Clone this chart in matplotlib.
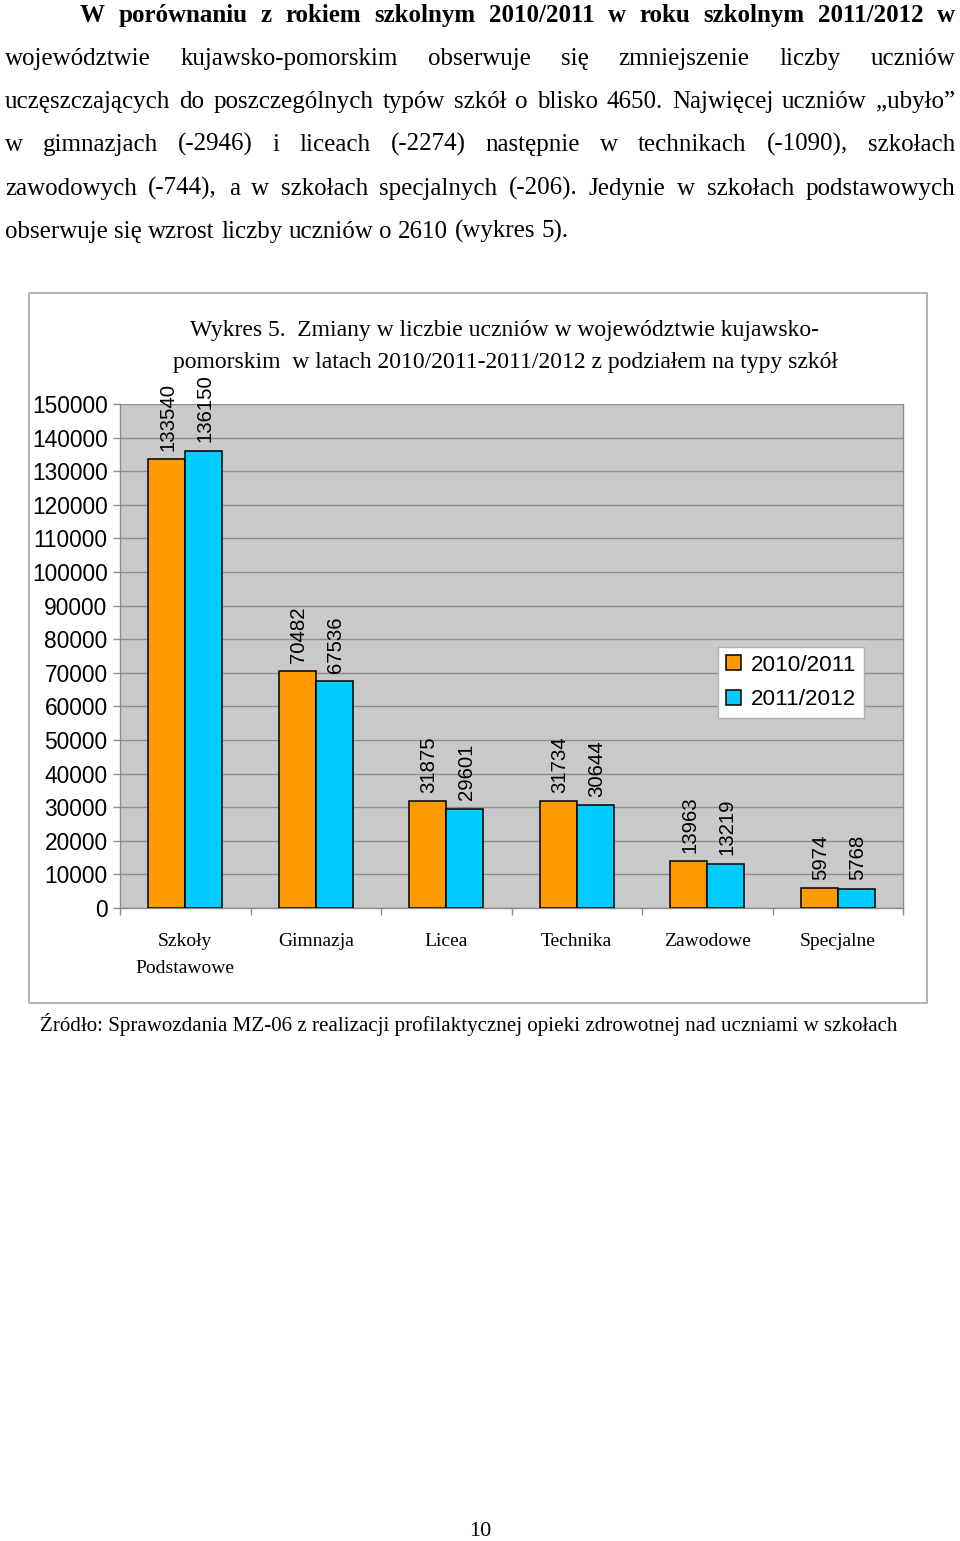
import matplotlib
matplotlib.use("Agg")
import matplotlib.pyplot as plt
import numpy as np
from matplotlib.patches import Rectangle

categories = ["Szkoły\nPodstawowe", "Gimnazja", "Licea", "Technika", "Zawodowe", "Specjalne"]
series_names = ["2010/2011", "2011/2012"]
values_2010 = [133540, 70482, 31875, 31734, 13963, 5974]
values_2011 = [136150, 67536, 29601, 30644, 13219, 5768]
yticks = list(range(0, 150001, 10000))

paragraph_lines = [
    "W porównaniu z rokiem szkolnym 2010/2011 w roku szkolnym 2011/2012 w",
    "województwie kujawsko-pomorskim obserwuje się zmniejszenie liczby uczniów",
    "uczęszczających do poszczególnych typów szkół o blisko 4650. Najwięcej uczniów „ubyło”",
    "w gimnazjach (-2946) i liceach (-2274) następnie w technikach (-1090), szkołach",
    "zawodowych (-744), a w szkołach specjalnych (-206). Jedynie w szkołach podstawowych",
    "obserwuje się wzrost liczby uczniów o 2610 (wykres 5).",
]
bold_words_line1 = 11
title_text = ("Wykres 5.  Zmiany w liczbie uczniów w województwie kujawsko-\n"
              "pomorskim  w latach 2010/2011-2011/2012 z podziałem na typy szkół")
source_text = "Źródło: Sprawozdania MZ-06 z realizacji profilaktycznej opieki zdrowotnej nad uczniami w szkołach"
page_number = "10"

W, H = 960, 1541
fig = plt.figure(figsize=(W / 100, H / 100), dpi=100)
fig.patch.set_facecolor("white")
renderer = fig.canvas.get_renderer()

SERIF = "Liberation Serif"
SANS = "Liberation Sans"

def fx(px):
    return px / W

def fy(py):
    return 1 - py / H

def text_width(s, size, weight="normal"):
    t = fig.text(0, 0, s, fontsize=size, family=SERIF, fontweight=weight)
    w = t.get_window_extent(renderer).width
    t.remove()
    return w

# ---- justified paragraph ----
para_size = 18.0
baselines = [22, 65, 108, 151, 195, 238]
left_margin, right_margin, indent = 5, 955, 80
space_w = text_width("a a", para_size) - 2 * text_width("a", para_size)
for li, line in enumerate(paragraph_lines):
    words = line.split(" ")
    weights = ["normal"] * len(words)
    if li == 0:
        weights = ["bold"] * bold_words_line1 + ["normal"] * (len(words) - bold_words_line1)
    texts, widths = [], []
    for w_, wt in zip(words, weights):
        t = fig.text(0, fy(baselines[li]), w_, fontsize=para_size, family=SERIF,
                     fontweight=wt, va="baseline", ha="left")
        widths.append(t.get_window_extent(renderer).width)
        texts.append(t)
    x0 = indent if li == 0 else left_margin
    if li == len(paragraph_lines) - 1:
        gap = space_w
    else:
        gap = (right_margin - x0 - sum(widths)) / (len(words) - 1)
    xp = x0
    for t, wd in zip(texts, widths):
        t.set_x(fx(xp))
        xp += wd + gap

# ---- chart frame ----
fig.patches.append(Rectangle((fx(29), fy(1003)), fx(927) - fx(29), fy(293) - fy(1003),
                             transform=fig.transFigure, fill=False, edgecolor="#a6a6a6",
                             linewidth=1.2, zorder=0))

fig.text(fx(505), fy(346.5), title_text, fontsize=17, family=SERIF, ha="center",
         va="center", linespacing=1.7)

# ---- axes ----
ax = fig.add_axes([fx(120), fy(908), fx(903) - fx(120), fy(404) - fy(908)])
ax.set_facecolor("#c9c9c9")
x = np.arange(len(categories))
bw = 0.283
off = 0.142
b1 = ax.bar(x - off, values_2010, bw, color="#ff9900", edgecolor="black", linewidth=1.1,
            label=series_names[0], zorder=3)
b2 = ax.bar(x + off, values_2011, bw, color="#00ccff", edgecolor="black", linewidth=1.1,
            label=series_names[1], zorder=3)
for bars in (b1, b2):
    for r in bars:
        ax.annotate(f"{int(r.get_height())}", (r.get_x() + r.get_width() / 2, r.get_height()),
                    xytext=(1, 6), textcoords="offset points", rotation=90,
                    ha="center", va="bottom", fontsize=14.7, family=SANS)

ax.set_ylim(0, 150000)
ax.set_xlim(-0.5, len(categories) - 0.5)
ax.set_yticks(yticks)
ax.set_yticklabels([str(v) for v in yticks], fontsize=16.4, family=SANS)
ax.yaxis.grid(True, color="#8c8c8c", linewidth=1.0, zorder=1)
ax.set_axisbelow(True)
ax.tick_params(axis="y", length=5, width=1, color="#8c8c8c", pad=4)
ax.set_xticks(x)
ax.set_xticklabels(categories, fontsize=14, family=SERIF, linespacing=1.75, va="top")
ax.set_xticks(np.arange(-0.5, len(categories)), minor=True)
ax.tick_params(axis="x", which="major", length=0, pad=18)
ax.tick_params(axis="x", which="minor", length=5, width=1, color="#8c8c8c")
for s in ax.spines.values():
    s.set_color("#8c8c8c")
    s.set_linewidth(1.0)
ax.spines["top"].set_visible(False)

leg = ax.legend(loc="upper left", bbox_to_anchor=(0.764, 0.518), prop={"family": SANS, "size": 16.2},
                frameon=True, fancybox=False, edgecolor="#b0b0b0", facecolor="white",
                framealpha=1, handlelength=0.65, handleheight=0.65, handletextpad=0.45,
                borderpad=0.35, labelspacing=0.6, borderaxespad=0)
leg.get_frame().set_linewidth(1.0)

fig.text(fx(40), fy(1024), source_text, fontsize=15.1, family=SERIF, ha="left", va="center")
fig.text(fx(480), fy(1531), page_number, fontsize=16, family=SERIF, ha="center", va="center")

fig.savefig("out.png", dpi=100)
